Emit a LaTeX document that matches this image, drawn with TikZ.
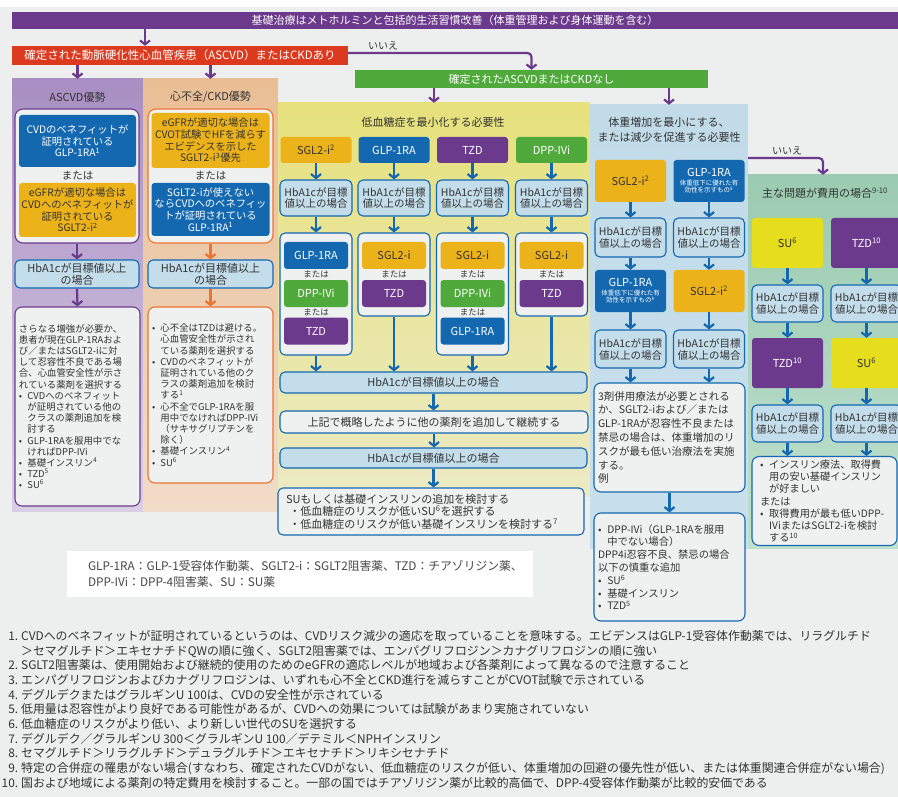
\documentclass[tikz,border=0pt]{standalone}
\usepackage{fontspec}
\setmainfont{Noto Sans CJK JP}
\usetikzlibrary{arrows.meta}

\definecolor{cbg}{HTML}{EDEFEF}
\definecolor{cpurple}{HTML}{6C3A8C}
\definecolor{cred}{HTML}{DC3A1F}
\definecolor{cgreen}{HTML}{4FAA3B}
\definecolor{cblue}{HTML}{1468B0}
\definecolor{cgold}{HTML}{ECB21A}
\definecolor{cyel}{HTML}{E6DD1C}
\definecolor{corange}{HTML}{EC7431}
\definecolor{clight}{HTML}{C3DDEB}
\definecolor{cpale}{HTML}{EFF1F1}
\definecolor{ctxt}{HTML}{333333}
\definecolor{ascA}{HTML}{A88EC2}
\definecolor{ascB}{HTML}{D9CEE4}
\definecolor{hfA}{HTML}{E9BE95}
\definecolor{hfB}{HTML}{F1DCC9}
\definecolor{yelA}{HTML}{E6E17C}
\definecolor{yelB}{HTML}{ECEAC4}
\definecolor{bluA}{HTML}{C1DBE9}
\definecolor{bluB}{HTML}{C9E0EC}
\definecolor{grnA}{HTML}{9BCBB1}
\definecolor{grnB}{HTML}{BFE0CD}

\newcommand{\fsz}[2]{\fontsize{#1}{#2}\selectfont}
\newcommand{\dotitem}{\makebox[0.9em][l]{•}}
\newcommand{\dotcont}{\hspace*{0.9em}}
\newcommand{\fnum}[1]{\makebox[13pt][r]{#1}\hspace{3pt}}
\newcommand{\subt}[1]{{\fsz{6.5}{7.5}#1}}

\tikzset{
  box/.style={rectangle,inner sep=0pt,align=center,text=ctxt},
  bar/.style={box,text=white,font=\fsz{11}{13}},
  panel/.style={box,font=\fsz{11}{15}},
  drug/.style={box,rounded corners=3pt,minimum width=71pt,font=\fsz{11}{12}},
  glp/.style={drug,fill=cblue,text=white},
  sglt/.style={drug,fill=cgold},
  tzd/.style={drug,fill=cpurple,text=white},
  dpp/.style={drug,fill=cgreen,text=white},
  su/.style={drug,fill=cyel},
  slot/.style={minimum width=64pt,minimum height=27pt},
  hba/.style={box,rounded corners=5pt,draw=cblue,line width=1.1pt,fill=clight,font=\fsz{10.5}{12}},
  grp/.style={box,rounded corners=5pt,draw=cblue,line width=1.1pt,fill=cpale},
  note/.style={box,rounded corners=7pt,draw=cblue,line width=1.1pt,fill=cpale,align=left,inner xsep=4pt,inner ysep=3pt,font=\fsz{10}{12.3}},
  orlbl/.style={box,font=\fsz{8.5}{9}},
  barr/.style={draw=cblue,line width=2.2pt,-{Straight Barb[length=4pt,width=10pt]}},
  parr/.style={barr,draw=cpurple},
  oarr/.style={barr,draw=corange}
}

\begin{document}
\begin{tikzpicture}[x=1pt,y=-1pt]
\useasboundingbox (0,0) rectangle (898,797);
\fill[cbg] (0,7) rectangle (898,797);

\node[bar,fill=cpurple,minimum width=886pt,minimum height=17pt] (base) at (455,20.5) {基礎治療はメトホルミンと包括的生活習慣改善（体重管理および身体運動を含む）};
\node[bar,fill=cred,minimum width=336pt,minimum height=19pt,font=\fsz{11.5}{13}] (ascq) at (180,55.5) {確定された動脈硬化性心血管疾患（ASCVD）またはCKDあり};
\node[bar,fill=cgreen,minimum width=353pt,minimum height=18pt] (noasc) at (531.5,79) {確定されたASCVDまたはCKDなし};
\node[box,font=\fsz{10}{12}] (no1) at (383,46) {いいえ};

\node[panel,top color=ascA,bottom color=ascB,minimum width=131pt,minimum height=432pt] (ascp) at (77.5,295) {};
\node[panel,top color=hfA,bottom color=hfB,minimum width=135pt,minimum height=432pt] (hfp) at (210.5,295) {};
\node[panel,top color=yelA,bottom color=yelB,minimum width=312pt,minimum height=393pt] (yelp) at (434,299.5) {};
\node[panel,top color=bluA,bottom color=bluB,minimum width=158pt,minimum height=443pt] (blup) at (669,326.5) {};
\node[panel,top color=grnA,bottom color=grnB,minimum width=150pt,minimum height=373pt] (grnp) at (823,361.5) {};

\node[panel] (asct) at (77.5,97) {ASCVD優勢};
\node[panel] (hft) at (210.5,97) {心不全/CKD優勢};
\node[panel] (yelt) at (433,122) {低血糖症を最小化する必要性};
\node[panel] (blut) at (669,129.5) {体重増加を最小にする、\\または減少を促進する必要性};
\node[panel] (grnt) at (825,193) {主な問題が費用の場合\textsuperscript{9-10}};

\draw[parr] (base.south -| 145,0) to (ascq.north -| 145,0);
\draw[parr] (ascq.south -| ascp.north) to (ascp.north);
\draw[parr] (ascq.south -| hfp.north) to (hfp.north);
\draw[parr,rounded corners=4pt] ([yshift=2.5pt]ascq.east) -| (noasc.north);
\draw[parr] (noasc.south -| yelp.north) to (yelp.north);
\draw[parr] (noasc.south -| blup.north) to (blup.north);
\draw[parr,rounded corners=4pt] (blup.east |- 0,158) -| (grnp.north);
\node[box,font=\fsz{10}{12}] (no2) at (787,151) {いいえ};

\node[grp,draw=cpurple,rounded corners=8pt,minimum width=124pt,minimum height=134pt] (ascg) at (77,176) {};
\node[glp,minimum width=117pt,minimum height=52pt,font=\fsz{10.3}{11.7}] (ascglp) at (77.5,141) {CVDのベネフィットが\\証明されている\\GLP-1RA\textsuperscript{1}};
\node[box,font=\fsz{10.5}{11}] (ascor) at (77.5,176) {または};
\node[sglt,minimum width=117pt,minimum height=54pt,font=\fsz{10.3}{11.7}] (ascsg) at (77.5,210) {eGFRが適切な場合は\\CVDへのベネフィットが\\証明されている\\SGLT2-i\textsuperscript{2}};
\node[hba,minimum width=124pt,minimum height=28pt,font=\fsz{11}{12}] (aschb) at (77,274) {HbA1cが目標値以上\\の場合};
\node[note,draw=cpurple,text width=117pt,minimum height=199pt,font=\fsz{9.4}{11.2}] (asctx) at (77.5,406.5) {さらなる増強が必要か、\\患者が現在GLP-1RAおよ\\び／またはSGLT2-iに対\\して忍容性不良である場\\合、心血管安全性が示さ\\れている薬剤を選択する\\\dotitem CVDへのベネフィット\\\dotcont が証明されている他の\\\dotcont クラスの薬剤追加を検\\\dotcont 討する\\\dotitem GLP-1RAを服用中でな\\\dotcont ければDPP-IVi\\\dotitem 基礎インスリン\textsuperscript{4}\\\dotitem TZD\textsuperscript{5}\\\dotitem SU\textsuperscript{6}};
\draw[parr] (ascg.south) to (aschb.north);
\draw[parr] (aschb.south) to (asctx.north);

\node[grp,draw=corange,rounded corners=8pt,minimum width=125pt,minimum height=134pt] (hfg) at (210.5,176) {};
\node[sglt,minimum width=118pt,minimum height=55pt,font=\fsz{10.3}{11.7}] (hfsg) at (210.5,140.5) {eGFRが適切な場合は\\CVOT試験でHFを減らす\\エビデンスを示した\\SGLT2-i\textsuperscript{3}優先};
\node[box,font=\fsz{10.5}{11}] (hfor) at (210.5,176) {または};
\node[glp,minimum width=118pt,minimum height=53pt,font=\fsz{10.3}{11.7}] (hfglp) at (210.5,209.5) {SGLT2-iが使えない\\ならCVDへのベネフィッ\\トが証明されている\\GLP-1RA\textsuperscript{1}};
\node[hba,minimum width=125pt,minimum height=28pt,font=\fsz{11}{12}] (hfhb) at (210.5,274) {HbA1cが目標値以上\\の場合};
\node[note,draw=corange,text width=117pt,minimum height=176pt,font=\fsz{9.4}{11.2}] (hftx) at (210.5,395) {\dotitem 心不全はTZDは避ける。\\\dotcont 心血管安全性が示され\\\dotcont ている薬剤を選択する\\\dotitem CVDのベネフィットが\\\dotcont 証明されている他のク\\\dotcont ラスの薬剤追加を検討\\\dotcont する\textsuperscript{1}\\\dotitem 心不全でGLP-1RAを服\\\dotcont 用中でなければDPP-IVi\\\dotcont （サキサグリプチンを\\\dotcont 除く）\\\dotitem 基礎インスリン\textsuperscript{4}\\\dotitem SU\textsuperscript{6}};
\draw[oarr] (hfg.south) to (hfhb.north);
\draw[oarr] (hfhb.south) to (hftx.north);

\node[sglt,minimum height=26pt] (y1a) at (316,150) {SGL2-i\textsuperscript{2}};
\node[glp,minimum height=26pt] (y2a) at (394,150) {GLP-1RA};
\node[tzd,minimum height=26pt] (y3a) at (472.5,150) {TZD};
\node[dpp,minimum height=26pt] (y4a) at (551.5,150) {DPP-IVi};
\node[hba,minimum width=72pt,minimum height=36pt] (y1b) at (316,198) {HbA1cが目標\\値以上の場合};
\node[hba,minimum width=72pt,minimum height=36pt] (y2b) at (394,198) {HbA1cが目標\\値以上の場合};
\node[hba,minimum width=72pt,minimum height=36pt] (y3b) at (472.5,198) {HbA1cが目標\\値以上の場合};
\node[hba,minimum width=72pt,minimum height=36pt] (y4b) at (551.5,198) {HbA1cが目標\\値以上の場合};
\node[grp,minimum width=72pt,minimum height=122pt] (y1c) at (316,294) {};
\node[grp,minimum width=72pt,minimum height=83pt] (y2c) at (394,274.5) {};
\node[grp,minimum width=72pt,minimum height=122pt] (y3c) at (472.5,294) {};
\node[grp,minimum width=72pt,minimum height=83pt] (y4c) at (551.5,274.5) {};
\node[glp,slot] (y1c1) at (316,255.5) {GLP-1RA};
\node[orlbl] (y1o1) at (316,274.5) {または};
\node[dpp,slot] (y1c2) at (316,293.5) {DPP-IVi};
\node[orlbl] (y1o2) at (316,312.5) {または};
\node[tzd,slot] (y1c3) at (316,331) {TZD};
\node[sglt,slot] (y2c1) at (394,255.5) {SGL2-i};
\node[orlbl] (y2o1) at (394,274.5) {または};
\node[tzd,slot] (y2c2) at (394,293.5) {TZD};
\node[sglt,slot] (y3c1) at (472.5,255.5) {SGL2-i};
\node[orlbl] (y3o1) at (472.5,274.5) {または};
\node[dpp,slot] (y3c2) at (472.5,293.5) {DPP-IVi};
\node[orlbl] (y3o2) at (472.5,312.5) {または};
\node[glp,slot] (y3c3) at (472.5,331) {GLP-1RA};
\node[sglt,slot] (y4c1) at (551.5,255.5) {SGL2-i};
\node[orlbl] (y4o1) at (551.5,274.5) {または};
\node[tzd,slot] (y4c2) at (551.5,293.5) {TZD};
\node[hba,minimum width=307pt,minimum height=21pt,font=\fsz{11}{12}] (yb1) at (433.5,382.5) {HbA1cが目標値以上の場合};
\node[hba,fill=cpale,minimum width=308pt,minimum height=22pt,font=\fsz{11}{12}] (ycont) at (434,422) {上記で概略したように他の薬剤を追加して継続する};
\node[hba,minimum width=307pt,minimum height=20pt,font=\fsz{11}{12}] (yb2) at (433.5,458) {HbA1cが目標値以上の場合};
\node[note,rounded corners=5pt,inner xsep=8pt,text width=290pt,minimum height=47pt,font=\fsz{11}{12.6}] (ysu) at (431,511.5) {SUもしくは基礎インスリンの追加を検討する\\\hspace*{0.3em}・低血糖症のリスクが低いSU\textsuperscript{6}を選択する\\\hspace*{0.3em}・低血糖症のリスクが低い基礎インスリンを検討する\textsuperscript{7}};
\draw[barr] (y1a) to (y1b);
\draw[barr] (y2a) to (y2b);
\draw[barr] (y3a) to (y3b);
\draw[barr] (y4a) to (y4b);
\draw[barr] (y1b) to (y1c);
\draw[barr] (y2b) to (y2c);
\draw[barr] (y3b) to (y3c);
\draw[barr] (y4b) to (y4c);
\draw[barr] (y1c.south) to (y1c.south |- yb1.north);
\draw[barr] (y2c.south) to (y2c.south |- yb1.north);
\draw[barr] (y3c.south) to (y3c.south |- yb1.north);
\draw[barr] (y4c.south) to (y4c.south |- yb1.north);
\draw[barr] (yb1.south) to (yb1.south |- ycont.north);
\draw[barr] (ycont.south) to (ycont.south |- yb2.north);
\draw[barr] (yb2.south) to (yb2.south |- ysu.north);

\node[sglt,minimum height=42pt] (b1a) at (630.5,181) {SGL2-i\textsuperscript{2}};
\node[glp,minimum height=42pt] (b2a) at (709,181) {GLP-1RA\\[-3pt]\subt{体重低下に優れた有}\\[-5pt]\subt{効性を示すもの\textsuperscript{8}}};
\node[hba,minimum width=71pt,minimum height=39pt] (b1b) at (630.5,237.5) {HbA1cが目標\\値以上の場合};
\node[hba,minimum width=71pt,minimum height=39pt] (b2b) at (709,237.5) {HbA1cが目標\\値以上の場合};
\node[glp,minimum height=42pt] (b1c) at (630.5,291) {GLP-1RA\\[-3pt]\subt{体重低下に優れた有}\\[-5pt]\subt{効性を示すもの\textsuperscript{8}}};
\node[sglt,minimum height=42pt] (b2c) at (709,291) {SGL2-i\textsuperscript{2}};
\node[hba,minimum width=71pt,minimum height=38pt] (b1d) at (630.5,349) {HbA1cが目標\\値以上の場合};
\node[hba,minimum width=71pt,minimum height=38pt] (b2d) at (709,349) {HbA1cが目標\\値以上の場合};
\node[note,text width=143pt,minimum height=109pt,font=\fsz{10.5}{13.8}] (b3) at (669.5,437.5) {3剤併用療法が必要とされる\\か、SGLT2-iおよび／または\\GLP-1RAが忍容性不良または\\禁忌の場合は、体重増加のリ\\スクが最も低い治療法を実施\\する。\\例};
\node[note,text width=143pt,minimum height=108pt,font=\fsz{10.3}{12.8}] (b4) at (669.5,567) {\dotitem DPP-IVi（GLP-1RAを服用\\\dotcont 中でない場合）\\DPP4i忍容不良、禁忌の場合\\以下の慎重な追加\\\dotitem SU\textsuperscript{6}\\\dotitem 基礎インスリン\\\dotitem TZD\textsuperscript{5}};
\draw[barr] (b1a) to (b1b);
\draw[barr] (b2a) to (b2b);
\draw[barr] (b1b) to (b1c);
\draw[barr] (b2b) to (b2c);
\draw[barr] (b1c) to (b1d);
\draw[barr] (b2c) to (b2d);
\draw[barr] (b1d.south) to (b1d.south |- b3.north);
\draw[barr] (b2d.south) to (b2d.south |- b3.north);
\draw[barr] (b3) to (b4);

\node[su,minimum height=50pt] (g1a) at (787.5,243) {SU\textsuperscript{6}};
\node[tzd,minimum height=50pt] (g2a) at (866.5,243) {TZD\textsuperscript{10}};
\node[hba,minimum width=71pt,minimum height=37pt] (g1b) at (787.5,303.5) {HbA1cが目標\\値以上の場合};
\node[hba,minimum width=71pt,minimum height=37pt] (g2b) at (866.5,303.5) {HbA1cが目標\\値以上の場合};
\node[tzd,minimum height=50pt] (g1c) at (787.5,363) {TZD\textsuperscript{10}};
\node[su,minimum height=50pt] (g2c) at (866.5,363) {SU\textsuperscript{6}};
\node[hba,minimum width=71pt,minimum height=37pt] (g1d) at (787.5,423.5) {HbA1cが目標\\値以上の場合};
\node[hba,minimum width=71pt,minimum height=37pt] (g2d) at (866.5,423.5) {HbA1cが目標\\値以上の場合};
\node[note,inner xsep=8pt,text width=129pt,minimum height=88pt,font=\fsz{10.2}{12.3}] (gfin) at (824.5,501) {\dotitem インスリン療法、取得費\\\dotcont 用の安い基礎インスリン\\\dotcont が好ましい\\または\\\dotitem 取得費用が最も低いDPP-\\\dotcont IViまたはSGLT2-iを検討\\\dotcont する\textsuperscript{10}};
\draw[barr] (g1a) to (g1b);
\draw[barr] (g2a) to (g2b);
\draw[barr] (g1b) to (g1c);
\draw[barr] (g2b) to (g2c);
\draw[barr] (g1c) to (g1d);
\draw[barr] (g2c) to (g2d);
\draw[barr] (g1d.south) to (g1d.south |- gfin.north);
\draw[barr] (g2d.south) to (g2d.south |- gfin.north);

\node[box,fill=white,text=ctxt!90,text width=466pt,minimum height=46pt,align=left,font=\fsz{11.8}{16}] (lgd) at (300,574) {\hspace*{21pt}GLP-1RA：GLP-1受容体作動薬、SGLT2-i：SGLT2阻害薬、TZD：チアゾリジン薬、\\\hspace*{21pt}DPP-IVi：DPP-4阻害薬、SU：SU薬};

\node[box,anchor=north west,align=left,font=\fsz{11.9}{14.7}] (fn) at (5,630) {\fnum{1.}CVDへのベネフィットが証明されているというのは、CVDリスク減少の適応を取っていることを意味する。エビデンスはGLP-1受容体作動薬では、リラグルチド\\\hspace*{16pt}＞セマグルチド＞エキセナチドQWの順に強く、SGLT2阻害薬では、エンパグリフロジン＞カナグリフロジンの順に強い\\\fnum{2.}SGLT2阻害薬は、使用開始および継続的使用のためのeGFRの適応レベルが地域および各薬剤によって異なるので注意すること\\\fnum{3.}エンパグリフロジンおよびカナグリフロジンは、いずれも心不全とCKD進行を減らすことがCVOT試験で示されている\\\fnum{4.}デグルデクまたはグラルギンU 100は、CVDの安全性が示されている\\\fnum{5.}低用量は忍容性がより良好である可能性があるが、CVDへの効果については試験があまり実施されていない\\\fnum{6.}低血糖症のリスクがより低い、より新しい世代のSUを選択する\\\fnum{7.}デグルデク／グラルギンU 300＜グラルギンU 100／デテミル＜NPHインスリン\\\fnum{8.}セマグルチド＞リラグルチド＞デュラグルチド＞エキセナチド＞リキシセナチド\\\fnum{9.}特定の合併症の罹患がない場合(すなわち、確定されたCVDがない、低血糖症のリスクが低い、体重増加の回避の優先性が低い、または体重関連合併症がない場合)\\\fnum{10.}国および地域による薬剤の特定費用を検討すること。一部の国ではチアゾリジン薬が比較的高価で、DPP-4受容体作動薬が比較的安価である};
\end{tikzpicture}
\end{document}
